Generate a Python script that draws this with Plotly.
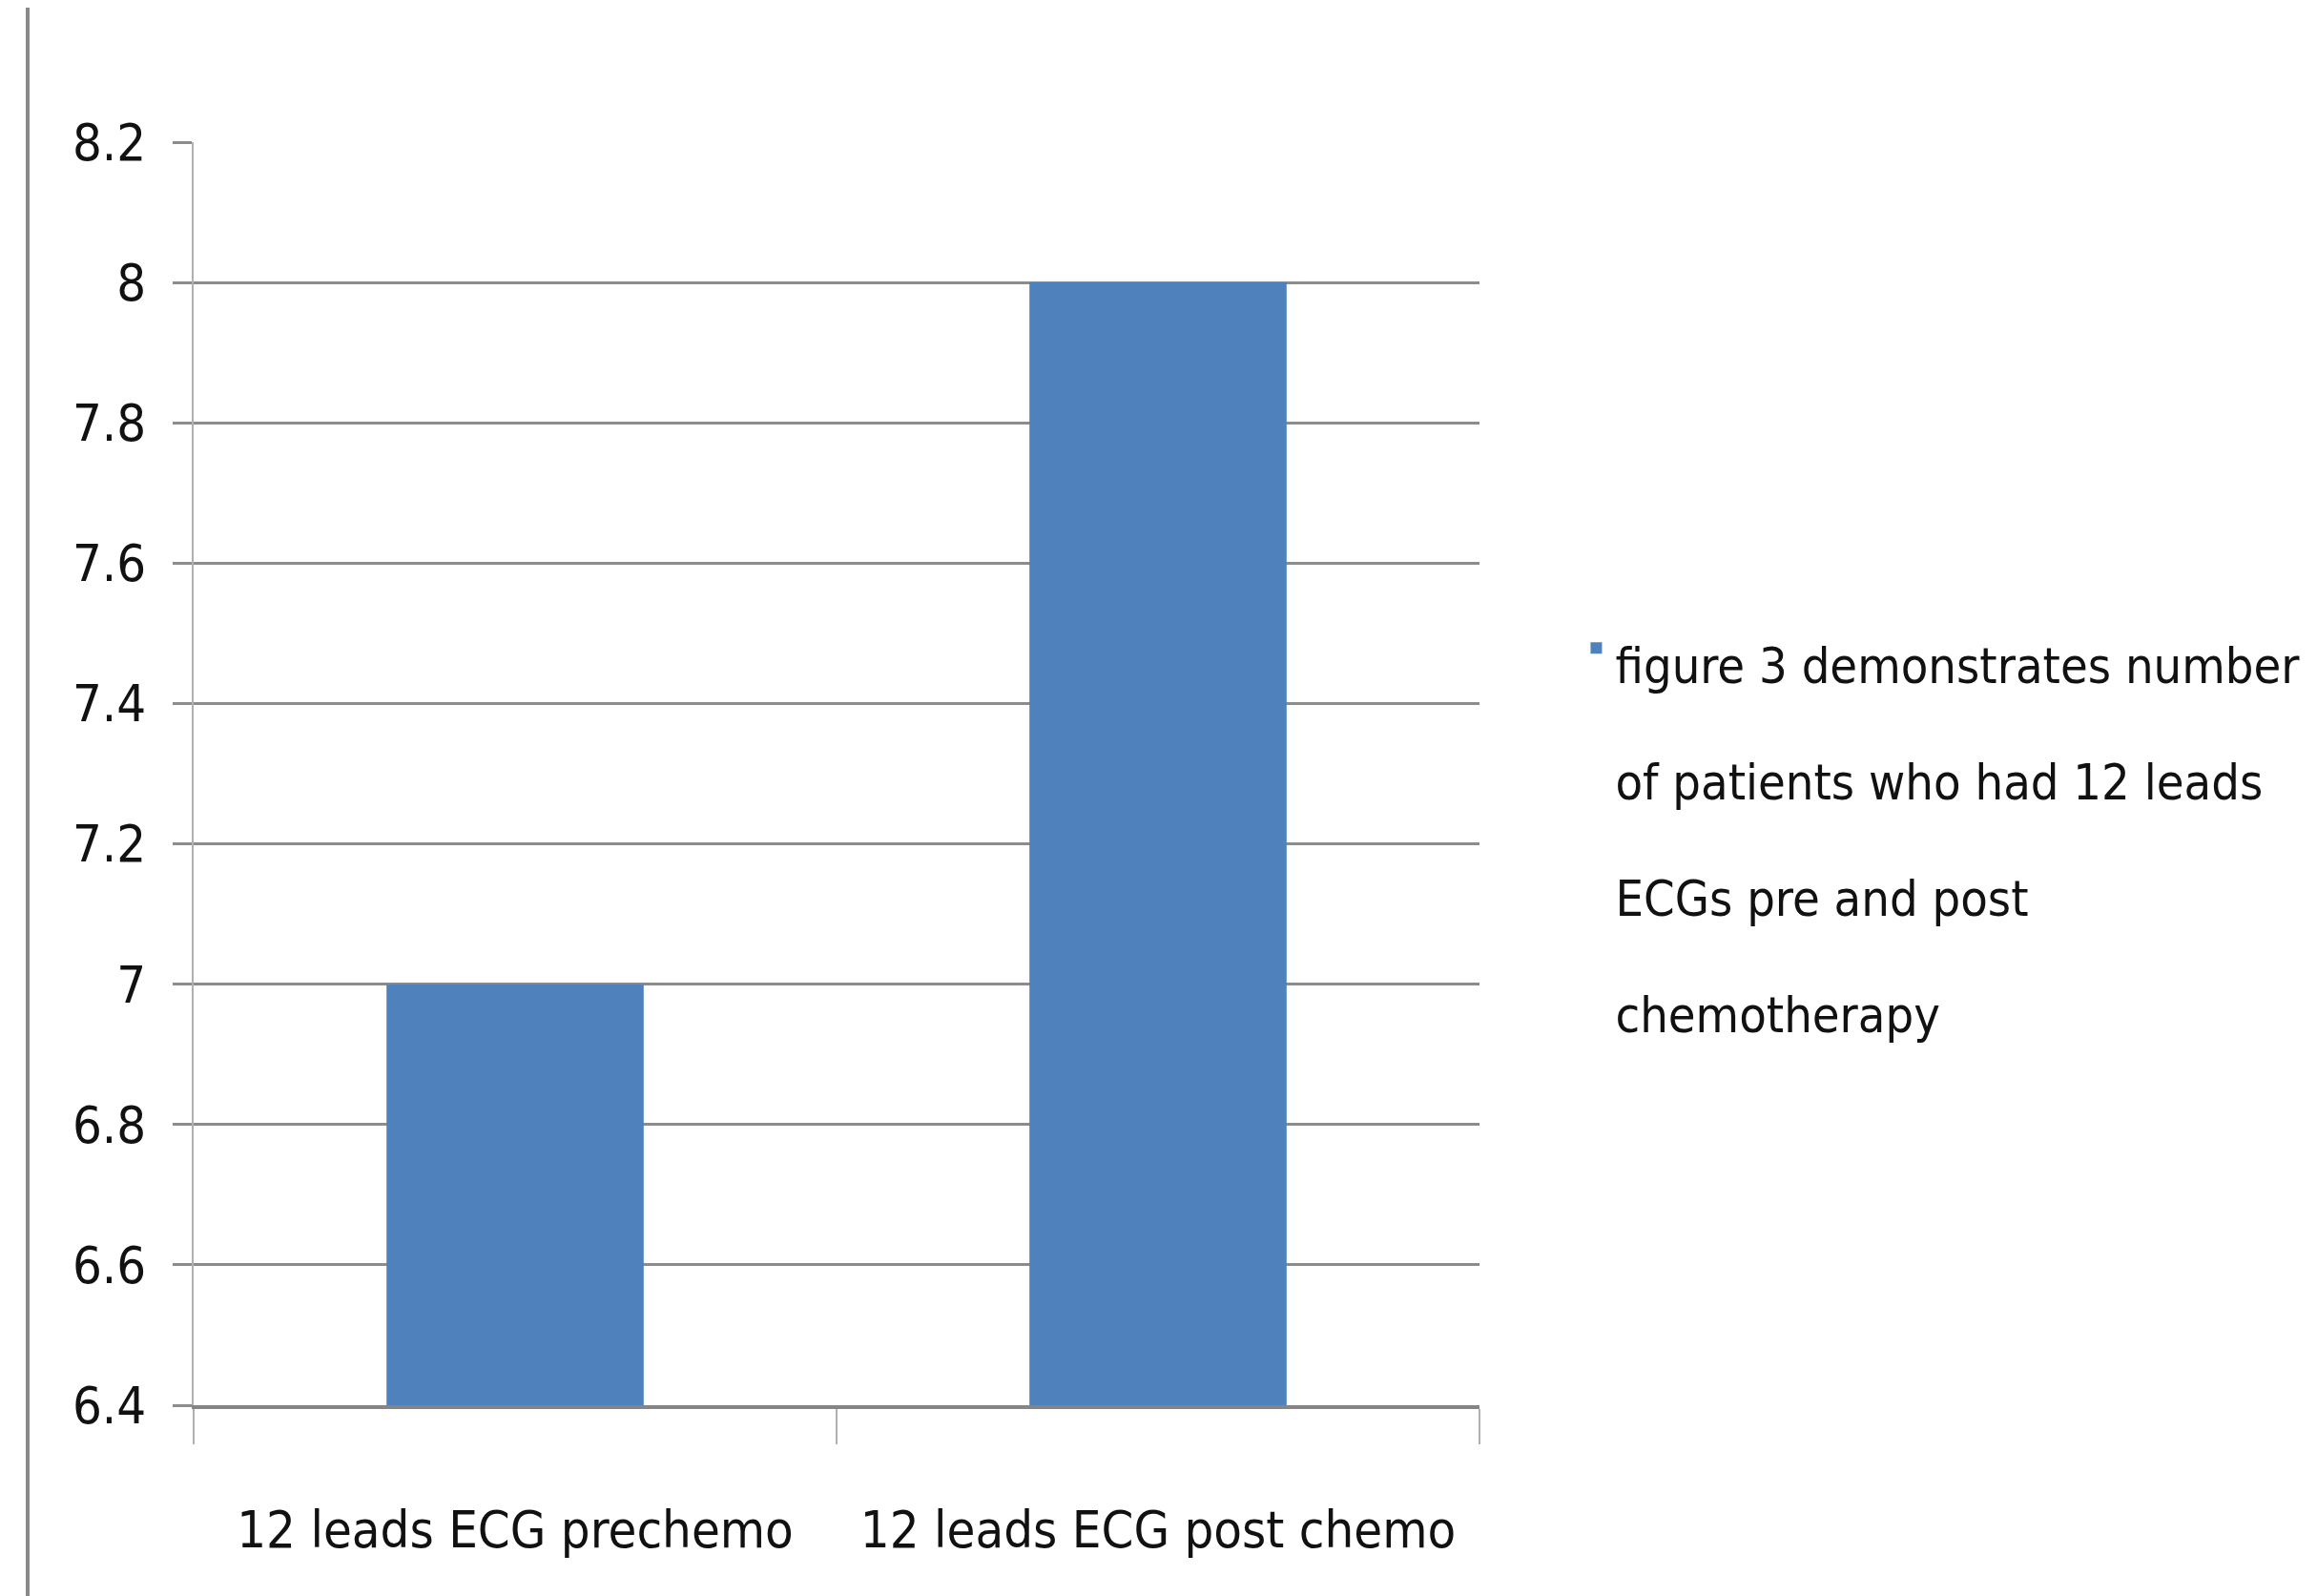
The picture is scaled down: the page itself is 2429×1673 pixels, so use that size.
import plotly.graph_objects as go

categories = ["12 leads ECG prechemo", "12 leads ECG post chemo"]
values = [7, 8]
series_lines = ["figure 3 demonstrates number", "of patients who had 12 leads",
                "ECGs pre and post", "chemotherapy"]
y_ticks = [6.4, 6.6, 6.8, 7, 7.2, 7.4, 7.6, 7.8, 8, 8.2]
y_tick_labels = ["6.4", "6.6", "6.8", "7", "7.2", "7.4", "7.6", "7.8", "8", "8.2"]

FONT = "DejaVu Sans Condensed, Liberation Sans Narrow, Arial Narrow, sans-serif"
FS = 54
LEG_FS = 52
series_name = "<br>".join(f'<span style="font-size:{LEG_FS}px">{t}</span>' for t in series_lines)

W, H = 2429, 1673
L, R, T, B = 195, 886, 141, 208

fig = go.Figure()
fig.add_trace(go.Bar(
    x=categories, y=values, name=series_name,
    marker=dict(color="#4F81BD", line=dict(width=0)),
    showlegend=True,
))

fig.update_layout(
    width=W, height=H,
    margin=dict(l=L, r=R, t=T, b=B, autoexpand=False),
    paper_bgcolor="white", plot_bgcolor="white",
    font=dict(family=FONT, size=FS, color="#111111"),
    bargap=0.6,
    showlegend=True,
    legend=dict(
        x=1.076, y=0.461, xanchor="left", yanchor="middle",
        font=dict(family=FONT, size=94, color="#111111"),
        valign="top", bgcolor="rgba(0,0,0,0)",
    ),
    xaxis=dict(
        type="category",
        showline=True, linecolor="#858585", linewidth=4,
        ticks="outside", tickson="boundaries", ticklen=37,
        tickcolor="#b0b0b0", tickwidth=2,
        tickangle=0,
        ticklabelstandoff=80,
        showgrid=False, zeroline=False,
        tickfont=dict(family=FONT, size=FS, color="#111111"),
    ),
    yaxis=dict(
        range=[6.4, 8.2],
        tickvals=y_ticks, ticktext=y_tick_labels,
        showline=True, linecolor="#b0b0b0", linewidth=2,
        ticks="outside", ticklen=20, tickcolor="#8c8c8c", tickwidth=3,
        showgrid=True, gridcolor="#8c8c8c", gridwidth=3,
        zeroline=False,
        ticklabelstandoff=17,
        tickfont=dict(family=FONT, size=FS, color="#111111"),
    ),
    shapes=[dict(
        type="line", xref="paper", yref="paper",
        x0=(21 - L) / (W - L - R), x1=(21 - L) / (W - L - R),
        y0=-0.5, y1=1.5,
        line=dict(color="#8a8a8a", width=4),
    )],
)

fig.write_html("out.html")
